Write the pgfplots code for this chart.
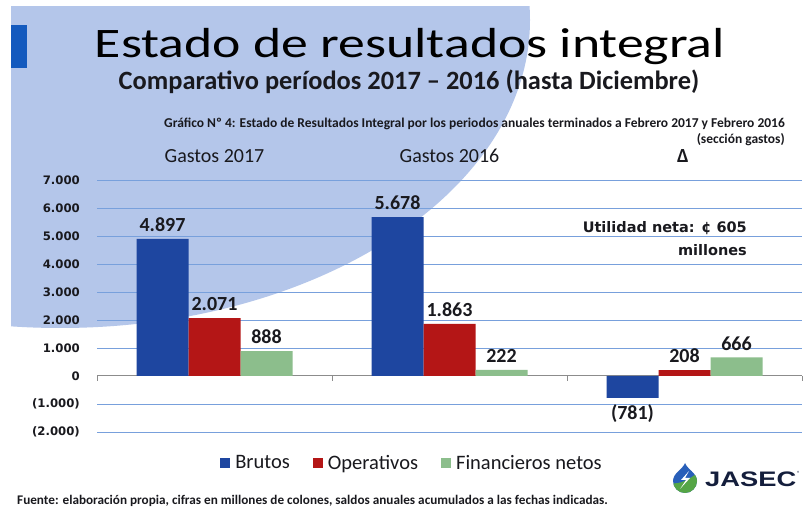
\documentclass[border=0pt]{standalone}
\usepackage{pgfplots}
\pgfplotsset{compat=1.18}
\usepackage{fontspec}
\setmainfont{Carlito}
\newfontfamily\titlefont[FakeStretch=1.28]{Carlito}
\newfontfamily\dejavu{DejaVu Sans}
\newfontfamily\logofont[FakeStretch=1.3]{Liberation Sans}
\definecolor{bgblue}{RGB}{180,198,234}
\definecolor{markblue}{RGB}{20,90,190}
\definecolor{bblue}{RGB}{30,70,160}
\definecolor{bred}{RGB}{180,22,22}
\definecolor{bgreen}{RGB}{140,190,140}
\definecolor{gridblue}{RGB}{120,160,220}
\definecolor{zerogray}{RGB}{140,140,140}
\definecolor{txt}{RGB}{25,25,30}
\definecolor{logoblue}{RGB}{40,95,185}
\definecolor{logogreen}{RGB}{85,165,70}
\definecolor{logotext}{RGB}{20,30,60}
\begin{document}
\begin{tikzpicture}[x=1pt,y=1pt]
\fill[white] (0,0) rectangle (809,509);
\begin{scope}
\clip (11,0) rectangle (809,502);
\fill[bgblue] (60,489) ellipse [x radius=470, y radius=308];
\end{scope}
\fill[markblue] (11,441) rectangle (27,484);
% titles
\node[anchor=base, inner sep=0pt, text=black] at (410,451) {\titlefont\fontsize{42}{48}\selectfont Estado de resultados integral};
\node[anchor=base, inner sep=0pt, text=txt] at (409,419) {\bfseries\fontsize{26.4}{30}\selectfont Comparativo períodos 2017 -- 2016 (hasta Diciembre)};
\node[anchor=base east, inner sep=0pt, text=txt] at (785,381.5) {\bfseries\fontsize{13.5}{15}\selectfont Gráfico Nº 4: Estado de Resultados Integral por los periodos anuales terminados a Febrero 2017 y Febrero 2016};
\node[anchor=base east, inner sep=0pt, text=txt] at (785,365) {\bfseries\fontsize{13.5}{15}\selectfont (sección gastos)};
% group labels
\node[anchor=base, inner sep=0pt, text=txt] at (214.5,346) {\fontsize{20}{24}\selectfont Gastos 2017};
\node[anchor=base, inner sep=0pt, text=txt] at (449.5,346) {\fontsize{20}{24}\selectfont Gastos 2016};
\node[anchor=base, inner sep=0pt, text=txt] at (683,346) {\bfseries\fontsize{20}{24}\selectfont Δ};
% note
\node[anchor=base east, inner sep=0pt, text=txt] at (747,276) {\dejavu\bfseries\fontsize{14.5}{17}\selectfont Utilidad neta: ¢ 605};
\node[anchor=base east, inner sep=0pt, text=txt] at (747,253) {\dejavu\bfseries\fontsize{14.5}{17}\selectfont millones};
% footer
\node[anchor=base west, inner sep=0pt, text=txt] at (17,5) {\bfseries\fontsize{13.2}{15}\selectfont Fuente: elaboración propia, cifras en millones de colones, saldos anuales acumulados a las fechas indicadas.};
% logo
\begin{scope}
\clip (685,46) .. controls (683,40) and (673,36) .. (673,28) arc[start angle=180,end angle=360,radius=12] .. controls (697,36) and (687,40) .. (685,46) -- cycle;
\fill[logoblue] (670,14) rectangle (700,48);
\fill[logogreen] (670,14) -- (670,26) .. controls (680,24) and (690,30) .. (700,38) -- (700,14) -- cycle;
\fill[white] (689,38) -- (681,29) -- (686,29) -- (680,20) -- (690,31) -- (685,31) -- cycle;
\end{scope}
\node[anchor=base west, inner sep=0pt, text=logotext] at (705,22) {\logofont\bfseries\fontsize{21}{24}\selectfont JASEC};
\node[anchor=base west, inner sep=0pt, text=logotext] at (797,33) {\fontsize{6}{7}\selectfont ®};
\begin{axis}[
  at={(97pt,77pt)}, anchor=south west,
  scale only axis, width=705pt, height=252pt,
  xmin=-0.5, xmax=2.5, ymin=-2000, ymax=7000,
  ybar=0pt, bar width=52pt,
  axis line style={draw=none},
  xtick=\empty,
  ytick={-2000,-1000,1000,2000,3000,4000,5000,6000,7000},
  yticklabels={(2.000),(1.000),1.000,2.000,3.000,4.000,5.000,6.000,7.000},
  extra y ticks={0}, extra y tick labels={0},
  extra y tick style={grid style={zerogray, line width=1pt}},
  major tick length=0pt,
  ymajorgrids,
  grid style={gridblue, line width=0.9pt},
  yticklabel style={font=\dejavu\bfseries\fontsize{11.7}{13}\selectfont, text=txt, inner sep=0pt, anchor=east, xshift=-17pt},
  clip=false,
  point meta=explicit symbolic,
  nodes near coords style={font=\bfseries\fontsize{20}{24}\selectfont, text=txt, inner xsep=0pt, inner ysep=7pt, anchor=south},
  legend columns=3,
  legend style={at={(0.449,-0.123)}, anchor=center, draw=none, fill=none,
     font=\fontsize{20.5}{24}\selectfont, text=txt,
     nodes={inner xsep=5pt},
     /tikz/every even column/.append style={column sep=18pt}},
  legend image code/.code={\fill[#1] (0pt,-5pt) rectangle (10pt,5pt);},
]
\addplot[fill=bblue, draw=none, nodes near coords] coordinates {(0,4897)[4.897] (1,5678)[5.678] (2,-781)[\phantom{0}]};
\addplot[fill=bred, draw=none, nodes near coords] coordinates {(0,2071)[2.071] (1,1863)[1.863] (2,208)[208]};
\addplot[fill=bgreen, draw=none, nodes near coords] coordinates {(0,888)[888] (1,222)[222] (2,666)[666]};
\legend{Brutos, Operativos, Financieros netos}
\addplot[forget plot, draw=none, fill=none, bar shift=-52pt, nodes near coords,
  nodes near coords style={anchor=north}] coordinates {(2,-781)[(781)]};
\draw[zerogray, line width=1pt] (axis cs:-0.5,0) -- ([yshift=-5pt]axis cs:-0.5,0);
\draw[zerogray, line width=1pt] (axis cs:0.5,0) -- ([yshift=-5pt]axis cs:0.5,0);
\draw[zerogray, line width=1pt] (axis cs:1.5,0) -- ([yshift=-5pt]axis cs:1.5,0);
\draw[zerogray, line width=1pt] (axis cs:2.5,0) -- ([yshift=-5pt]axis cs:2.5,0);
\end{axis}
\end{tikzpicture}
\end{document}
